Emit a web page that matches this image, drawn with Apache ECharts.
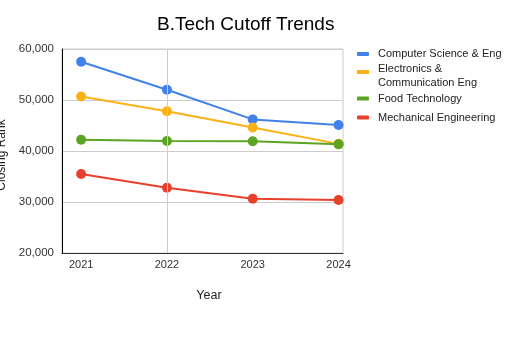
<!DOCTYPE html>
<html>
<head>
<meta charset="utf-8">
<script src="https://cdn.jsdelivr.net/npm/echarts@6/dist/echarts.min.js"></script>
<style>
  html, body { margin: 0; padding: 0; background: #fff; }
  #chart { width: 512px; height: 341px; }
</style>
</head>
<body>
<div id="chart"></div>
<script>
// Closing ranks per branch, by admission year
const years = [2021, 2022, 2023, 2024];
const csEng = [57500, 52000, 46200, 45100];
const eceEng = [50700, 47800, 44600, 41400];
const foodTech = [42200, 41950, 41900, 41300];
const mechEng = [35500, 32800, 30650, 30400];
const yTicks = [20000, 30000, 40000, 50000, 60000];

const seriesNames = [
  'Computer Science & Eng',
  'Electronics &\nCommunication Eng',
  'Food Technology',
  'Mechanical Engineering'
];
const seriesValues = [csEng, eceEng, foodTech, mechEng];
const colors = ['#4281ea', '#fbb217', '#5ca523', '#e8402c'];
const FONT = 'Liberation Sans, Arial, sans-serif';

const pairs = vals => years.map((y, i) => [y, vals[i]]);

const lineSeries = seriesNames.map((name, i) => ({
  name: name,
  type: 'line',
  data: pairs(seriesValues[i]),
  symbol: 'circle',
  symbolSize: 10,
  z: 3,
  lineStyle: { width: 2, color: colors[i] },
  itemStyle: { color: colors[i] }
}));

// Vertical guide line at 2022
lineSeries.push({
  type: 'line',
  data: [],
  z: 1,
  markLine: {
    silent: true,
    symbol: 'none',
    label: { show: false },
    lineStyle: { color: '#cccccc', width: 1, type: 'solid' },
    data: [{ xAxis: 2022 }]
  }
});

// Legend swatch for the two-line entry: bar sits in the upper part of a taller box
const tallSwatch = 'path://M0,0 L12,0 L12,4 L0,4 Z M0,11.99 L0.01,11.99 L0.01,12 L0,12 Z';

// One legend block per series so each row can be placed on its own
const legendTops = [47, 61.5, 91.5, 110.5];
const legends = seriesNames.map((name, i) => ({
  orient: 'vertical',
  left: 357,
  top: legendTops[i],
  padding: 0,
  itemWidth: 12,
  itemHeight: i === 1 ? 12 : 4,
  icon: i === 1 ? tallSwatch : 'roundRect',
  data: [name],
  textStyle: {
    fontFamily: FONT,
    fontSize: 11,
    color: '#222',
    lineHeight: i === 1 ? 14.4 : 14,
    padding: [0, 0, 0, 4]
  }
}));

const chart = echarts.init(document.getElementById('chart'), null, { renderer: 'canvas' });
chart.setOption({
  animation: false,
  backgroundColor: '#ffffff',
  color: colors,
  title: {
    text: 'B.Tech Cutoff Trends',
    left: 152,
    top: 10,
    textStyle: { fontFamily: FONT, fontSize: 19, fontWeight: 'normal', color: '#000' }
  },
  legend: legends,
  grid: {
    left: 62,
    right: 169,
    top: 49,
    bottom: 88,
    containLabel: false,
    outerBoundsMode: 'none',
    show: true,
    borderColor: '#cccccc',
    borderWidth: 1
  },
  xAxis: {
    type: 'value',
    min: 2020.777,
    max: 2024.052,
    name: 'Year',
    nameLocation: 'middle',
    nameGap: 36,
    nameTextStyle: { fontFamily: FONT, fontSize: 12.5, color: '#222', padding: [0, 0, 0, 13] },
    axisLine: { show: true, lineStyle: { color: '#333', width: 1 } },
    axisTick: { show: false },
    splitLine: { show: false },
    axisLabel: {
      customValues: years,
      margin: 6,
      fontFamily: FONT,
      fontSize: 11,
      color: '#333',
      formatter: v => String(v)
    }
  },
  yAxis: {
    type: 'value',
    min: yTicks[0],
    max: yTicks[yTicks.length - 1],
    interval: 10000,
    name: 'Closing Rank',
    nameLocation: 'middle',
    nameRotate: 90,
    nameGap: 52,
    nameTextStyle: { fontFamily: FONT, fontSize: 12, color: '#222', padding: [0, 8, 0, 0] },
    axisLine: { show: true, lineStyle: { color: '#000', width: 1 } },
    axisTick: { show: false },
    splitLine: { show: true, lineStyle: { color: '#cccccc', width: 1 } },
    axisLabel: {
      margin: 8,
      fontFamily: FONT,
      fontSize: 11.5,
      color: '#333',
      formatter: v => v.toLocaleString('en-US')
    }
  },
  series: lineSeries
});
</script>
</body>
</html>
